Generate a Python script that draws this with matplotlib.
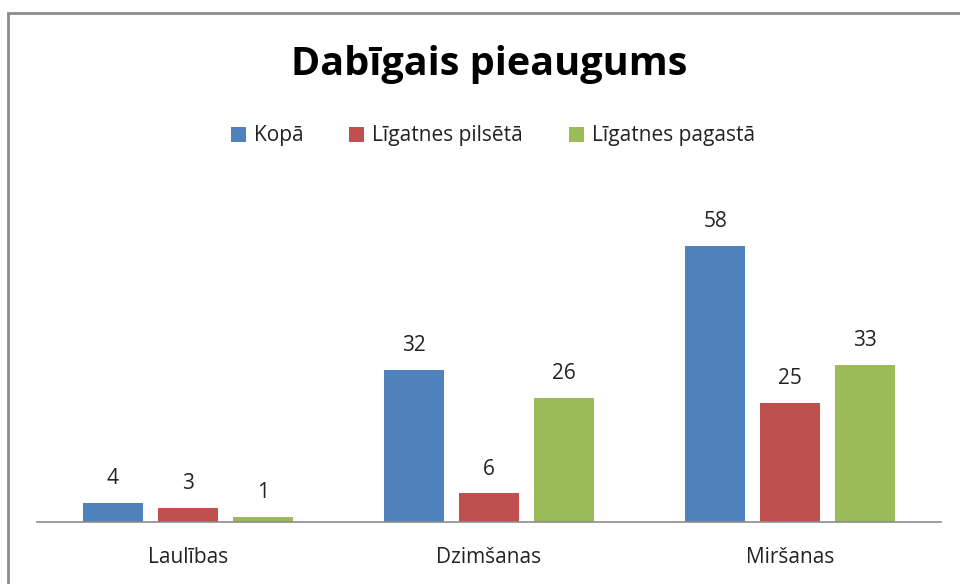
import matplotlib.pyplot as plt
import matplotlib.patches as mpatches
import numpy as np

# data
categories = ["Laulības", "Dzimšanas", "Miršanas"]
series_names = ["Kopā", "Līgatnes pilsētā", "Līgatnes pagastā"]
kopa = [4, 32, 58]
pilseta = [3, 6, 25]
pagasts = [1, 26, 33]
colors = ["#4F81BD", "#C0504D", "#9BBB59"]

plt.rcParams['font.family'] = ['Open Sans', 'DejaVu Sans']

W, H = 960, 584
fig = plt.figure(figsize=(W / 100, H / 100), dpi=100)
ax = fig.add_axes([37 / W, (H - 522) / H, (941 - 37) / W, (522 - 189) / H])

x = np.arange(len(categories))
width = 0.2
offset = 0.249
for i, (vals, name) in enumerate(zip([kopa, pilseta, pagasts], series_names)):
    bars = ax.bar(x + (i - 1) * offset, vals, width, color=colors[i], label=name)
    ax.bar_label(bars, padding=10, fontsize=15, color="#222222")

ax.set_xlim(-0.5, len(categories) - 0.5)
ax.set_ylim(0, 70)
ax.set_xticks(x)
ax.set_xticklabels(categories, fontsize=15, color="#222222")
ax.tick_params(axis='x', length=0, pad=18)
ax.set_yticks([])
for s in ["top", "left", "right"]:
    ax.spines[s].set_visible(False)
ax.spines["bottom"].set_color("#8c8c8c")
ax.spines["bottom"].set_linewidth(1.2)

fig.text(489 / W, 1 - 65 / H, "Dabīgais pieaugums", ha="center", va="center",
         fontsize=28.5, fontweight="bold", color="black")

fig.legend(loc="center", bbox_to_anchor=(493 / W, 1 - 136 / H), ncol=3,
           frameon=False, fontsize=15, handlelength=0.7, handleheight=0.7,
           handletextpad=0.4, columnspacing=2.2, labelcolor="#222222")

# outer chart border (cropped on the right and bottom)
border = mpatches.Rectangle((8 / W, -0.1), 1.2, 1 - 13 / H + 0.1,
                            transform=fig.transFigure, fill=False,
                            edgecolor="#8c8c8c", linewidth=2, clip_on=False)
fig.patches.append(border)

fig.savefig("out.png", dpi=100)
